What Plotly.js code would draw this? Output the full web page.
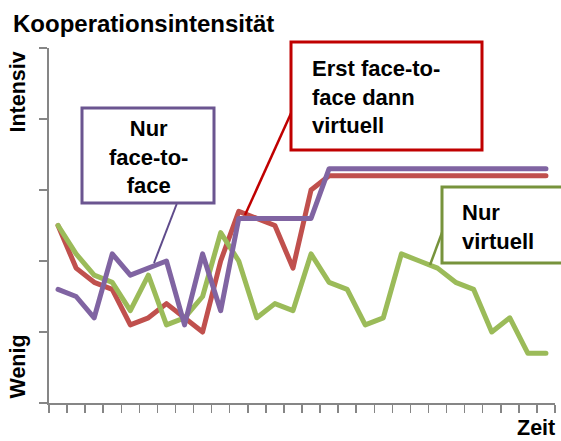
<!DOCTYPE html>
<html>
<head>
<meta charset="utf-8">
<script src="https://cdn.plot.ly/plotly-3.0.1.min.js"></script>
<style>
html,body{margin:0;padding:0;background:#fff;}
#chart{width:561px;height:441px;}
.scatterlayer .js-line{stroke-linejoin:round;stroke-linecap:round;}
</style>
</head>
<body>
<div id="chart"></div>
<script>
// ---- data ----
const periods = ["1","2","3","4","5","6","7","8","9","10","11","12","13","14","15","16","17","18","19","20","21","22","23","24","25","26","27","28"];
const erstFaceDannVirtuell = [2.5,1.9,1.7,1.6,1.1,1.2,1.4,1.2,1.0,2.0,2.7,2.6,2.5,1.9,3.0,3.2,3.2,3.2,3.2,3.2,3.2,3.2,3.2,3.2,3.2,3.2,3.2,3.2];
const nurVirtuell = [2.5,2.1,1.8,1.7,1.3,1.8,1.1,1.2,1.5,2.4,2.0,1.2,1.4,1.3,2.1,1.7,1.6,1.1,1.2,2.1,2.0,1.9,1.7,1.6,1.0,1.2,0.7,0.7];
const nurFaceToFace = [1.6,1.5,1.2,2.1,1.8,1.9,2.0,1.1,2.1,1.3,2.6,2.6,2.6,2.6,2.6,3.3,3.3,3.3,3.3,3.3,3.3,3.3,3.3,3.3,3.3,3.3,3.3,3.3];
const titleText = "Kooperationsintensität";
const yTop = "Intensiv", yBottom = "Wenig", xLabel = "Zeit";
const labelFaceToFace = "Nur<br>face-to-<br>face";
const labelErst = "Erst face-to-<br>face dann<br>virtuell";
const labelVirtuell = "Nur<br>virtuell";

// ---- layout helpers (pixel -> paper) ----
const L = 49, R = 555, T = 48, B = 403;
const px = X => (X - L) / (R - L);
const py = Y => (B - Y) / (B - T);
const FONT = "Liberation Sans, Arial, sans-serif";

function trace(y, color) {
  return {x: periods, y: y, type: "scatter", mode: "lines",
          line: {color: color, width: 5}, hoverinfo: "skip"};
}
const data = [
  trace(erstFaceDannVirtuell, "#C0504D"),
  trace(nurVirtuell, "#9BBB59"),
  trace(nurFaceToFace, "#8064A2")
];

function rect(x0, y0, x1, y1, color) {
  return {type: "rect", xref: "paper", yref: "paper", layer: "above",
          x0: px(x0), x1: px(x1), y0: py(y0), y1: py(y1),
          line: {color: color, width: 3}, fillcolor: "#ffffff"};
}
function seg(x0, y0, x1, y1, color, w) {
  return {type: "line", xref: "paper", yref: "paper", layer: "above",
          x0: px(x0), x1: px(x1), y0: py(y0), y1: py(y1),
          line: {color: color, width: w}};
}
function txt(text, X, Y, xanchor, align, size, angle) {
  return {text: "<b>" + text + "</b>", xref: "paper", yref: "paper",
          x: px(X), y: py(Y), xanchor: xanchor, yanchor: "middle",
          align: align, showarrow: false, textangle: angle || 0,
          font: {family: FONT, size: size, color: "#000"}, borderpad: 0};
}

const axisCol = "#868686";
const layout = {
  width: 561, height: 441,
  margin: {l: L, r: 561 - R, t: T, b: 441 - B, pad: 0},
  paper_bgcolor: "#fff", plot_bgcolor: "#fff",
  showlegend: false,
  title: {text: "<b>" + titleText + "</b>", xref: "container", yref: "container",
          x: 13 / 561, xanchor: "left", y: 1 - 24 / 441, yanchor: "middle",
          font: {family: FONT, size: 24, color: "#000"}},
  xaxis: {type: "category", tickson: "boundaries", range: [-0.5, 27.5],
          ticks: "outside", ticklen: 8, tickwidth: 1.5, tickcolor: axisCol,
          showline: true, linecolor: axisCol, linewidth: 2,
          showgrid: false, zeroline: false, showticklabels: false, fixedrange: true},
  yaxis: {range: [0, 5], dtick: 1, tick0: 0,
          ticks: "outside", ticklen: 8, tickwidth: 1.5, tickcolor: axisCol,
          showline: true, linecolor: axisCol, linewidth: 2,
          showgrid: false, zeroline: false, showticklabels: false, fixedrange: true},
  shapes: [
    seg(176.7, 204, 154, 263, "#5F4B8B", 2),
    seg(291.7, 111.7, 245, 215, "#C00000", 2.5),
    seg(443, 230, 430, 265, "#77933C", 2.5),
    rect(82, 108, 214, 203, "#6B5590"),
    rect(291, 42, 482, 150, "#C00000"),
    rect(442, 187, 575, 263, "#77933C")
  ],
  annotations: [
    txt(labelFaceToFace, 148, 157, "center", "center", 22),
    txt(labelErst, 311, 97, "left", "left", 22),
    txt(labelVirtuell, 461, 227, "left", "left", 22),
    txt(yTop, 17.5, 92, "center", "center", 21.5, -90),
    txt(yBottom, 17.5, 367, "center", "center", 21.5, -90),
    txt(xLabel, 536, 428, "center", "center", 21.5)
  ]
};

Plotly.newPlot("chart", data, layout, {staticPlot: true, displayModeBar: false});
</script>
</body>
</html>
